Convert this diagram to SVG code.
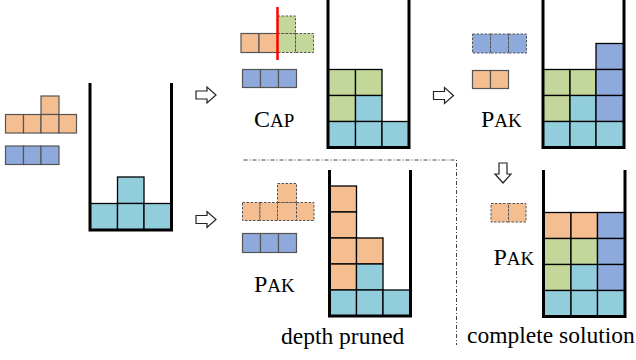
<svg xmlns="http://www.w3.org/2000/svg" width="636" height="360" viewBox="0 0 636 360">
<style>
.o{fill:#F5BE91}.b{fill:#8EA9DB}.c{fill:#92CDDC}.g{fill:#C4D79B}
.p rect{stroke:#555;stroke-width:1.2}
.d rect{stroke:#555;stroke-width:1;stroke-dasharray:2.5 1.5}
.k rect{stroke:#000;stroke-width:1.3}
.wall{fill:none;stroke:#000;stroke-width:3;stroke-linejoin:miter}
.arr{fill:#fff;stroke:#222;stroke-width:1.2}
.t{font-family:"Liberation Serif","Times New Roman",serif;fill:#000}
</style>
<defs>
<polygon id="ra" class="arr" points="0,4 11,4 11,0 20,8 11,16 11,12 0,12"/>
</defs>

<g id="start">
  <g class="p">
    <rect class="o" x="41" y="96" width="18" height="18.5"/>
    <rect class="o" x="5.5" y="114.5" width="18" height="18.5"/>
    <rect class="o" x="23.5" y="114.5" width="17.5" height="18.5"/>
    <rect class="o" x="41" y="114.5" width="18" height="18.5"/>
    <rect class="o" x="59" y="114.5" width="17.5" height="18.5"/>
    <rect class="b" x="5.5" y="146" width="18" height="18.5"/>
    <rect class="b" x="23.5" y="146" width="17.5" height="18.5"/>
    <rect class="b" x="41" y="146" width="18" height="18.5"/>
  </g>
  <g class="k">
    <rect class="c" x="117.5" y="177" width="26.5" height="26.5"/>
    <rect class="c" x="90" y="203.5" width="27.5" height="26.5"/>
    <rect class="c" x="117.5" y="203.5" width="26.5" height="26.5"/>
    <rect class="c" x="144" y="203.5" width="27.5" height="26.5"/>
  </g>
  <path class="wall" d="M90,83 V230 H171.5 V83"/>
</g>

<g id="cap">
  <g class="p">
    <rect class="o" x="241" y="33.5" width="18" height="19"/>
    <rect class="o" x="259" y="33.5" width="18.5" height="19"/>
  </g>
  <g class="d">
    <rect class="g" x="277.5" y="16" width="18" height="17.5"/>
    <rect class="g" x="277.5" y="33.5" width="18" height="19"/>
    <rect class="g" x="295.5" y="33.5" width="18" height="19"/>
  </g>
  <line x1="277.5" y1="7" x2="277.5" y2="60" stroke="#F00" stroke-width="2.5"/>
  <g class="p">
    <rect class="b" x="242.5" y="69.5" width="18" height="18"/>
    <rect class="b" x="260.5" y="69.5" width="18" height="18"/>
    <rect class="b" x="278.5" y="69.5" width="18" height="18"/>
  </g>
  <text class="t" x="254" y="127"><tspan font-size="24">C</tspan><tspan font-size="19">AP</tspan></text>
  <g class="k">
    <rect class="g" x="328" y="69.5" width="27.5" height="26"/>
    <rect class="g" x="355.5" y="69.5" width="26.5" height="26"/>
    <rect class="g" x="328" y="95.5" width="27.5" height="26"/>
    <rect class="c" x="355.5" y="95.5" width="26.5" height="26"/>
    <rect class="c" x="328" y="121.5" width="27.5" height="26"/>
    <rect class="c" x="355.5" y="121.5" width="26.5" height="26"/>
    <rect class="c" x="382" y="121.5" width="27" height="26"/>
  </g>
  <path class="wall" d="M328,0 V147.5 H409 V0"/>
</g>

<g id="pak1">
  <g class="d">
    <rect class="b" x="472.5" y="34" width="18" height="19"/>
    <rect class="b" x="490.5" y="34" width="18" height="19"/>
    <rect class="b" x="508.5" y="34" width="18" height="19"/>
  </g>
  <g class="p">
    <rect class="o" x="472.5" y="70.5" width="18" height="18"/>
    <rect class="o" x="490.5" y="70.5" width="18" height="18"/>
  </g>
  <text class="t" x="481" y="127"><tspan font-size="24">P</tspan><tspan font-size="19">AK</tspan></text>
  <g class="k">
    <rect class="b" x="596" y="43.5" width="28" height="26"/>
    <rect class="g" x="543" y="69.5" width="27" height="26"/>
    <rect class="g" x="570" y="69.5" width="26" height="26"/>
    <rect class="b" x="596" y="69.5" width="28" height="26"/>
    <rect class="g" x="543" y="95.5" width="27" height="26"/>
    <rect class="c" x="570" y="95.5" width="26" height="26"/>
    <rect class="b" x="596" y="95.5" width="28" height="26"/>
    <rect class="c" x="543" y="121.5" width="27" height="26"/>
    <rect class="c" x="570" y="121.5" width="26" height="26"/>
    <rect class="c" x="596" y="121.5" width="28" height="26"/>
  </g>
  <path class="wall" d="M543,0 V147.5 H624 V0"/>
</g>

<g id="pruned">
  <g class="d">
    <rect class="o" x="277.5" y="183.5" width="19" height="19"/>
    <rect class="o" x="242.5" y="202.5" width="17.5" height="18"/>
    <rect class="o" x="260" y="202.5" width="17.5" height="18"/>
    <rect class="o" x="277.5" y="202.5" width="19" height="18"/>
    <rect class="o" x="296.5" y="202.5" width="17.5" height="18"/>
  </g>
  <g class="p">
    <rect class="b" x="242.5" y="233.5" width="18" height="19"/>
    <rect class="b" x="260.5" y="233.5" width="18" height="19"/>
    <rect class="b" x="278.5" y="233.5" width="18" height="19"/>
  </g>
  <text class="t" x="254" y="292"><tspan font-size="24">P</tspan><tspan font-size="19">AK</tspan></text>
  <g class="k">
    <rect class="o" x="329.5" y="186" width="27" height="26"/>
    <rect class="o" x="329.5" y="212" width="27" height="26"/>
    <rect class="o" x="329.5" y="238" width="27" height="26"/>
    <rect class="o" x="356.5" y="238" width="26.5" height="26"/>
    <rect class="o" x="329.5" y="264" width="27" height="26"/>
    <rect class="c" x="356.5" y="264" width="26.5" height="26"/>
    <rect class="c" x="329.5" y="290" width="27" height="26"/>
    <rect class="c" x="356.5" y="290" width="26.5" height="26"/>
    <rect class="c" x="383" y="290" width="27.5" height="26"/>
  </g>
  <path class="wall" d="M329.5,170 V316 H410.5 V170"/>
  <text class="t" x="281" y="344" font-size="23.5">depth pruned</text>
</g>

<g id="complete">
  <g class="d">
    <rect class="o" x="491" y="203.5" width="17.5" height="18.5"/>
    <rect class="o" x="508.5" y="203.5" width="17.5" height="18.5"/>
  </g>
  <text class="t" x="493.5" y="264.5"><tspan font-size="24">P</tspan><tspan font-size="19">AK</tspan></text>
  <g class="k">
    <rect class="o" x="543.5" y="212.5" width="27.5" height="26"/>
    <rect class="o" x="571" y="212.5" width="26.5" height="26"/>
    <rect class="b" x="597.5" y="212.5" width="27.5" height="26"/>
    <rect class="g" x="543.5" y="238.5" width="27.5" height="26"/>
    <rect class="g" x="571" y="238.5" width="26.5" height="26"/>
    <rect class="b" x="597.5" y="238.5" width="27.5" height="26"/>
    <rect class="g" x="543.5" y="264.5" width="27.5" height="26"/>
    <rect class="c" x="571" y="264.5" width="26.5" height="26"/>
    <rect class="b" x="597.5" y="264.5" width="27.5" height="26"/>
    <rect class="c" x="543.5" y="290.5" width="27.5" height="26"/>
    <rect class="c" x="571" y="290.5" width="26.5" height="26"/>
    <rect class="c" x="597.5" y="290.5" width="27.5" height="26"/>
  </g>
  <path class="wall" d="M543.5,170 V316.5 H625 V170"/>
  <text class="t" x="467" y="343" font-size="23.5">complete solution</text>
</g>

<g id="connectors">
  <use href="#ra" x="196" y="87"/>
  <use href="#ra" x="196" y="211.5"/>
  <use href="#ra" x="433.5" y="87.5"/>
  <use href="#ra" transform="translate(511,163) rotate(90)"/>
  <path d="M243.5,160 H456.5 V345" fill="none" stroke="#444" stroke-width="1" stroke-dasharray="4 2 1 2"/>
</g>
</svg>
